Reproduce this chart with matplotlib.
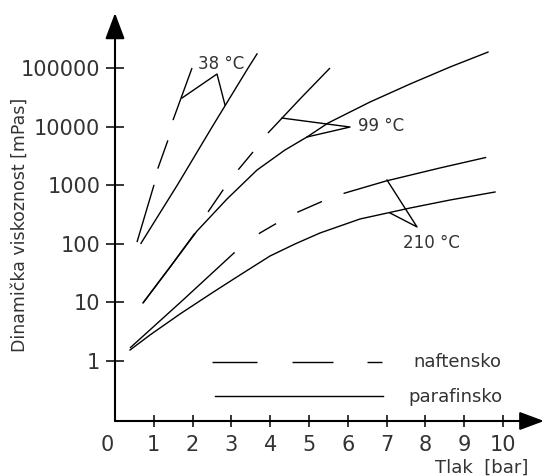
import matplotlib
matplotlib.use("Agg")
import matplotlib.pyplot as plt
from matplotlib.ticker import NullLocator

plt.rcParams['font.family'] = ['DejaVu Sans']

# 38 °C
x38_naft = [0.567, 1.005, 1.108, 1.366, 1.495, 1.985]
y38_naft = [107, 1010, 1960, 5900, 12900, 100000]
x38_para = [0.67, 1.624, 2.50, 3.43, 3.66]
y38_para = [102, 1050, 9800, 100000, 174000]

# 99 °C
x99_naft = [0.722, 1.418, 2.062, 2.397, 2.784, 3.170, 3.557, 3.943, 4.768, 5.541]
y99_naft = [9.8, 40, 153, 349, 828, 1815, 3690, 7780, 29600, 100000]
x99_para = [0.722, 1.418, 2.113, 2.887, 3.660, 4.381, 4.948, 5.490, 6.572, 7.603, 8.634, 9.613]
y99_para = [9.8, 40, 165, 582, 1815, 3990, 6650, 11500, 26300, 53300, 104000, 187000]

# 210 °C
x210_naft = [0.387, 1.753, 3.093, 3.737, 4.175, 4.716, 5.361, 5.928, 6.985, 8.376, 9.613]
y210_naft = [1.67, 11.0, 72.4, 153, 226, 349, 537, 736, 1180, 1970, 3030]
x210_para = [0.387, 0.902, 1.675, 2.5, 3.222, 3.995, 4.639, 5.284, 6.314, 7.603, 8.634, 9.794]
y210_para = [1.54, 2.78, 6.34, 14.5, 29.4, 61.9, 99.3, 153, 265, 408, 559, 766]

# oznake temperatura (linije do krivulja)
lead38_x = [1.727, 2.629, 2.835]
lead38_y = [30800, 79000, 23400]
lead99_x = [4.304, 6.057, 4.948]
lead99_y = [14000, 9840, 6650]
lead210_x = [7.010, 7.784, 7.088]
lead210_y = [1227, 194, 336]

yticks = [1, 10, 100, 1000, 10000, 100000]
ytick_labels = ['1', '10', '100', '1000', '10000', '100000']
xticks = [1, 2, 3, 4, 5, 6, 7, 8, 9, 10]

txt = '#333333'

fig = plt.figure(figsize=(5.44, 4.76), dpi=100)
ax = fig.add_axes([115/544, 55/476, 429/544, 408/476])
ax.set_yscale('log')
ax.set_xlim(0, 429/38.8)
ax.set_ylim(10**-1.024, 10**5.939)
for s in ax.spines.values():
    s.set_visible(False)

# osi sa strelicama
ax.annotate('', xy=(1, 0), xytext=(0, 0), xycoords='axes fraction',
            arrowprops=dict(arrowstyle='-|>,head_length=0.75,head_width=0.28',
                            mutation_scale=20, lw=1.5, color='black', shrinkA=0, shrinkB=0))
ax.annotate('', xy=(0, 1), xytext=(0, 0), xycoords='axes fraction',
            arrowprops=dict(arrowstyle='-|>,head_length=0.8,head_width=0.3',
                            mutation_scale=20, lw=1.5, color='black', shrinkA=0, shrinkB=0))

lw = 1.0
ax.plot(x38_naft, y38_naft, color='black', lw=lw, dashes=(43, 12, 21.6, 15, 40, 300))
ax.plot(x38_para, y38_para, color='black', lw=lw)
ax.plot(x99_naft, y99_naft, color='black', lw=lw,
        dashes=(62.6, 18, 19.4, 18, 16.6, 17.3, 65, 300))
ax.plot(x99_para, y99_para, color='black', lw=lw)
ax.plot(x210_naft, y210_naft, color='black', lw=lw,
        dashes=(102, 22, 14.4, 17.3, 19.4, 16.6, 106, 300))
ax.plot(x210_para, y210_para, color='black', lw=lw)

ax.plot(lead38_x, lead38_y, color='black', lw=lw)
ax.plot(lead99_x, lead99_y, color='black', lw=lw)
ax.plot(lead210_x, lead210_y, color='black', lw=lw)

ax.text(2.14, 10**5.07, '38 °C', fontsize=12, color=txt, va='center', ha='left')
ax.text(6.26, 10**4.01, '99 °C', fontsize=12, color=txt, va='center', ha='left')
ax.text(7.42, 10**2.01, '210 °C', fontsize=12, color=txt, va='center', ha='left')

# legenda
ax.plot([2.5, 6.88], [0.96, 0.96], color='black', lw=lw, dashes=(32.4, 25.2, 29.5, 24.5, 10.8, 100))
ax.plot([2.58, 6.91], [0.253, 0.253], color='black', lw=lw)
ax.text(7.68, 0.96, 'naftensko', fontsize=13, color=txt, va='center', ha='left')
ax.text(7.55, 0.243, 'parafinsko', fontsize=13, color=txt, va='center', ha='left')

ax.set_yticks(yticks)
ax.set_yticklabels(ytick_labels)
ax.yaxis.set_minor_locator(NullLocator())
ax.set_xticks(xticks)
ax.set_xticklabels([str(v) for v in xticks])
ax.tick_params(axis='y', direction='inout', length=13, width=1.1, pad=4,
               labelsize=15, labelcolor=txt)
ax.tick_params(axis='x', direction='inout', length=8, width=1.1, pad=6,
               labelsize=15, labelcolor=txt)
ax.text(-0.2, -0.035, '0', transform=ax.get_xaxis_transform(), fontsize=15,
        color=txt, ha='center', va='top')

fig.text(20/544, 1 - 225/476, 'Dinamička viskoznost [mPas]', rotation=90,
         fontsize=12.5, color=txt, ha='center', va='center')
fig.text(528/544, 1 - 468/476, 'Tlak  [bar]', fontsize=13, color=txt,
         ha='right', va='center')

fig.savefig('out.png', dpi=100)
